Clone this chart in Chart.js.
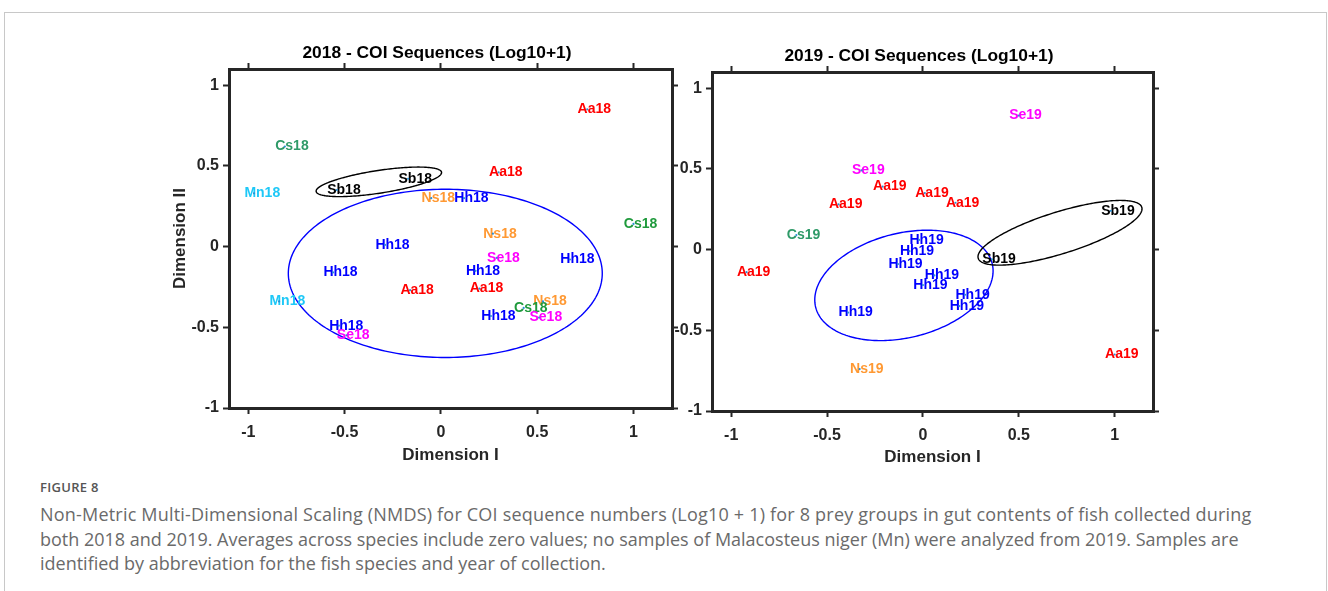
<!DOCTYPE html>
<html>
<head>
<meta charset="utf-8">
<script src="https://cdn.jsdelivr.net/npm/chart.js@4.4.1/dist/chart.umd.min.js"></script>
<style>
  html, body { margin: 0; padding: 0; background: #fff; }
  body { width: 1328px; height: 591px; position: relative; overflow: hidden; }
  #frame { position: absolute; left: 4px; top: 12px; width: 1323px; height: 620px;
           border: 1px solid #c8c8c8; box-sizing: border-box; }
  .panel { position: absolute; }
  #wrap18 { left: 160px; top: 30px; width: 530px; height: 440px; }
  #wrap19 { left: 640px; top: 30px; width: 540px; height: 440px; }
  .fig { position: absolute; left: 40px; top: 478px; font-family: "Open Sans", sans-serif;
         font-size: 13px; font-weight: 600; color: #555; letter-spacing: 0.3px; }
  .cap { position: absolute; left: 40px; font-family: "Open Sans", sans-serif; font-size: 18px;
         line-height: 24px; color: #6a6a6a; white-space: nowrap; }
</style>
</head>
<body>
<div id="frame"></div>
<div class="panel" id="wrap18"><canvas id="nmds18" width="530" height="440"></canvas></div>
<div class="panel" id="wrap19"><canvas id="nmds19" width="540" height="440"></canvas></div>
<div class="fig">FIGURE 8</div>
<div class="cap" style="top:502px;letter-spacing:0.2px">Non-Metric Multi-Dimensional Scaling (NMDS) for COI sequence numbers (Log10 + 1) for 8 prey groups in gut contents of fish collected during</div>
<div class="cap" style="top:527px">both 2018 and 2019. Averages across species include zero values; no samples of Malacosteus niger (Mn) were analyzed from 2019. Samples are</div>
<div class="cap" style="top:551px">identified by abbreviation for the fish species and year of collection.</div>

<script>
// ---- axis ticks ----
const xTickValues = [-1, -0.5, 0, 0.5, 1];
const xTickLabels = ['-1', '-0.5', '0', '0.5', '1'];
const yTickValues = [-1, -0.5, 0, 0.5, 1];
const yTickLabels = ['-1', '-0.5', '0', '0.5', '1'];
const xRange = [-1.1, 1.2];
const yRange = [-1, 1.1];

// ---- 2018 ordination scores ----
const samples2018 = ['Aa18', 'Cs18', 'Sb18', 'Sb18', 'Mn18', 'Aa18', 'Ns18', 'Hh18', 'Cs18', 'Ns18',
                     'Hh18', 'Se18', 'Hh18', 'Hh18', 'Hh18', 'Aa18', 'Aa18', 'Mn18', 'Ns18', 'Cs18',
                     'Hh18', 'Se18', 'Hh18', 'Se18'];
const dimI2018 = [0.76, -0.81, -0.54, -0.17, -0.97, 0.30, -0.05, 0.12, 1.00, 0.27,
                  -0.29, 0.29, 0.67, -0.56, 0.18, -0.16, 0.20, -0.84, 0.53, 0.43,
                  0.26, 0.51, -0.53, -0.49];
const dimII2018 = [0.85, 0.62, 0.35, 0.42, 0.33, 0.46, 0.30, 0.30, 0.14, 0.08,
                   0.01, -0.07, -0.08, -0.16, -0.15, -0.27, -0.26, -0.34, -0.34, -0.38,
                   -0.43, -0.44, -0.49, -0.55];
const group2018 = ['Aa', 'Cs', 'Sb', 'Sb', 'Mn', 'Aa', 'Ns', 'Hh', 'Cs2', 'Ns',
                   'Hh', 'Se', 'Hh', 'Hh', 'Hh', 'Aa', 'Aa', 'Mn', 'Ns', 'Cs2',
                   'Hh', 'Se', 'Hh', 'Se'];

// ---- 2019 ordination scores ----
const samples2019 = ['Se19', 'Se19', 'Aa19', 'Aa19', 'Aa19', 'Aa19', 'Sb19', 'Cs19', 'Hh19', 'Hh19',
                     'Sb19', 'Hh19', 'Aa19', 'Hh19', 'Hh19', 'Hh19', 'Hh19', 'Hh19', 'Aa19', 'Ns19'];
const dimI2019 = [0.50, -0.32, -0.21, 0.01, 0.17, -0.44, 0.98, -0.66, -0.02, -0.07,
                  0.36, -0.13, -0.92, 0.06, 0.00, 0.22, 0.19, -0.39, 1.00, -0.33];
const dimII2019 = [0.83, 0.49, 0.39, 0.35, 0.29, 0.28, 0.24, 0.09, 0.06, -0.01,
                   -0.06, -0.09, -0.14, -0.16, -0.22, -0.28, -0.35, -0.39, -0.65, -0.74];
const group2019 = ['Se', 'Se', 'Aa', 'Aa', 'Aa', 'Aa', 'Sb', 'Cs', 'Hh', 'Hh',
                   'Sb', 'Hh', 'Aa', 'Hh', 'Hh', 'Hh', 'Hh', 'Hh', 'Aa', 'Ns'];

// ---- group ellipses: centre x, centre y, semi-axis a, semi-axis b, tilt (deg) ----
const hhEllipse2018 = [0.023, -0.166, 0.815, 0.521, 0];
const sbEllipse2018 = [-0.322, 0.401, 0.331, 0.070, 10.5];
const hhEllipse2019 = [-0.099, -0.222, 0.481, 0.319, 20];
const sbEllipse2019 = [0.715, 0.104, 0.455, 0.127, 20.8];

// ---- styling ----
const groupColors = {
  Aa: '#ff0000', Hh: '#0000ff', Sb: '#000000', Se: '#ff00ff',
  Ns: '#ff9933', Mn: '#1ec8f7', Cs: '#2f9a68', Cs2: '#1f9a3c'
};
const axisInk = '#262626';
const fontFamily = '"Liberation Sans", Arial, Helvetica, sans-serif';
const labelShift = 0.05;   // label text starts this far left of its point

Chart.defaults.font.family = fontFamily;
Chart.defaults.color = axisInk;

function fixedSize(prop, value) {
  return function (scale) { scale[prop] = value; };
}

function makeOverlay(cfg) {
  return {
    id: 'nmdsOverlay',
    beforeDatasetsDraw(chart) {
      const { ctx, chartArea, scales: { x, y } } = chart;
      ctx.save();
      ctx.beginPath();
      ctx.rect(chartArea.left, chartArea.top, chartArea.width, chartArea.height);
      ctx.clip();
      // group ellipses
      cfg.ellipses.forEach(([e, color]) => {
        const [cx, cy, a, b, deg] = e;
        const th = deg * Math.PI / 180;
        ctx.beginPath();
        for (let k = 0; k <= 240; k++) {
          const t = k / 240 * 2 * Math.PI;
          const u = a * Math.cos(t), v = b * Math.sin(t);
          const px = x.getPixelForValue(cx + u * Math.cos(th) - v * Math.sin(th));
          const py = y.getPixelForValue(cy + u * Math.sin(th) + v * Math.cos(th));
          if (k === 0) ctx.moveTo(px, py); else ctx.lineTo(px, py);
        }
        ctx.closePath();
        ctx.strokeStyle = color;
        ctx.lineWidth = 1.4;
        ctx.stroke();
      });
      // sample labels
      const meta = chart.getDatasetMeta(0);
      ctx.font = 'bold 14px ' + fontFamily;
      ctx.textAlign = 'left';
      ctx.textBaseline = 'middle';
      cfg.labels.forEach((txt, i) => {
        const el = meta.data[i];
        ctx.fillStyle = groupColors[cfg.groups[i]];
        ctx.fillText(txt, x.getPixelForValue(cfg.xs[i] - labelShift), el.y);
      });
      ctx.restore();
    },
    afterDraw(chart) {
      const { ctx, chartArea } = chart;
      ctx.save();
      ctx.font = 'bold 17.4px ' + fontFamily;
      ctx.fillStyle = '#000';
      ctx.textAlign = 'center';
      ctx.textBaseline = 'middle';
      ctx.fillText(cfg.title, (chartArea.left + chartArea.right) / 2 - 13.5, chartArea.top - 15.5);
      ctx.restore();
    }
  };
}

function buildScales(box) {
  const tickGrid = { drawOnChartArea: false, drawTicks: true, tickLength: 6,
                     lineWidth: 3, tickWidth: 2, tickColor: axisInk };
  const border = { display: true, width: 3, color: axisInk };
  const tickFont = { size: 16, weight: 'bold' };
  const titleFont = { size: 17, weight: 'bold' };
  return {
    x: {
      type: 'linear', position: 'bottom', min: xRange[0], max: xRange[1],
      afterBuildTicks: s => { s.ticks = xTickValues.map(v => ({ value: v })); },
      afterFit: fixedSize('height', box.bottom),
      ticks: { font: tickFont, padding: box.xPad, maxRotation: 0, autoSkip: false,
               callback: (v, i) => xTickLabels[i] },
      grid: tickGrid, border,
      title: { display: true, text: 'Dimension I', font: titleFont, color: '#262626',
               padding: { top: 0, bottom: box.xTitlePad } }
    },
    xTop: {
      type: 'linear', position: 'top', min: xRange[0], max: xRange[1],
      afterBuildTicks: s => { s.ticks = xTickValues.map(v => ({ value: v })); },
      afterFit: fixedSize('height', box.top),
      ticks: { display: false }, grid: tickGrid, border
    },
    y: {
      type: 'linear', position: 'left', min: yRange[0], max: yRange[1],
      afterBuildTicks: s => { s.ticks = yTickValues.map(v => ({ value: v })); },
      afterFit: fixedSize('width', box.left),
      ticks: { font: tickFont, padding: 4, autoSkip: false,
               callback: (v, i) => yTickLabels[i] },
      grid: tickGrid, border,
      title: { display: !!box.yTitle, text: box.yTitle || '', font: titleFont, color: '#262626',
               padding: { top: box.yTitlePad, bottom: 0 } }
    },
    yRight: {
      type: 'linear', position: 'right', min: yRange[0], max: yRange[1],
      afterBuildTicks: s => { s.ticks = yTickValues.map(v => ({ value: v })); },
      afterFit: fixedSize('width', box.right),
      ticks: { display: false }, grid: tickGrid, border
    }
  };
}

function nmdsChart(canvasId, cfg, box) {
  const points = cfg.xs.map((v, i) => ({ x: v, y: cfg.ys[i] }));
  return new Chart(document.getElementById(canvasId), {
    type: 'scatter',
    data: {
      datasets: [{
        data: points,
        pointRadius: 1.1,
        pointBorderWidth: 0,
        pointBackgroundColor: '#2a8fd4'
      }]
    },
    options: {
      responsive: false,
      animation: false,
      devicePixelRatio: 1,
      layout: { padding: 0 },
      plugins: { legend: { display: false }, tooltip: { enabled: false } },
      scales: buildScales(box)
    },
    plugins: [makeOverlay(cfg)]
  });
}

nmdsChart('nmds18', {
  title: '2018 - COI Sequences (Log10+1)',
  labels: samples2018, xs: dimI2018, ys: dimII2018, groups: group2018,
  ellipses: [[hhEllipse2018, '#0000ff'], [sbEllipse2018, '#000000']]
}, { left: 69, right: 18, top: 39, bottom: 62, xPad: 9, xTitlePad: 4.8,
     yTitle: 'Dimension II', yTitlePad: 10.5 });

nmdsChart('nmds19', {
  title: '2019 - COI Sequences (Log10+1)',
  labels: samples2019, xs: dimI2019, ys: dimII2019, groups: group2019,
  ellipses: [[hhEllipse2019, '#0000ff'], [sbEllipse2019, '#000000']]
}, { left: 72, right: 27, top: 42, bottom: 59, xPad: 9, xTitlePad: 2.1 });
</script>
</body>
</html>
